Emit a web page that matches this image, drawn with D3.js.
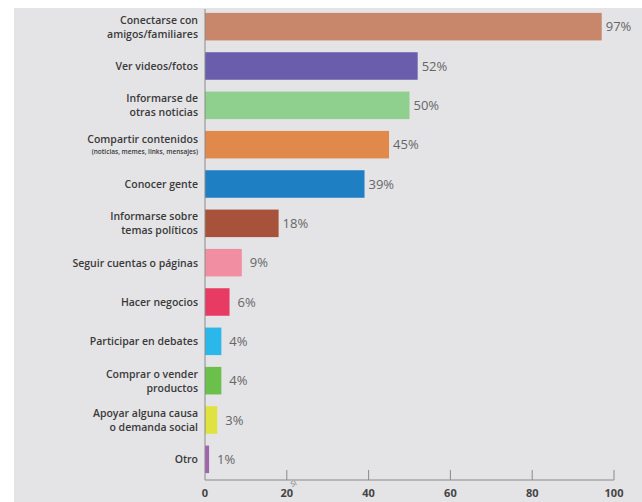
<!DOCTYPE html>
<html>
<head>
<meta charset="utf-8">
<script src="https://cdn.jsdelivr.net/npm/d3@7"></script>
<style>
  html, body { margin: 0; padding: 0; background: #fff; }
  svg { display: block; font-family: "Open Sans", "Noto Sans", sans-serif; }
</style>
</head>
<body>
<svg id="chart" width="642" height="502"></svg>
<script>
// Data
const categories = [
  ['Conectarse con', 'amigos/familiares'],
  ['Ver videos/fotos'],
  ['Informarse de', 'otras noticias'],
  ['Compartir contenidos'],
  ['Conocer gente'],
  ['Informarse sobre', 'temas políticos'],
  ['Seguir cuentas o páginas'],
  ['Hacer negocios'],
  ['Participar en debates'],
  ['Comprar o vender', 'productos'],
  ['Apoyar alguna causa', 'o demanda social'],
  ['Otro']
];
const subLabels = ['', '', '', '(noticias, memes, links, mensajes)', '', '', '', '', '', '', '', ''];
const values = [97, 52, 50, 45, 39, 18, 9, 6, 4, 4, 3, 1];
const colors = ['#c8876b', '#6a5dac', '#8fd08f', '#e1884b', '#1f7fc3', '#a9523b',
                '#f28ea1', '#e83b63', '#2cb7ea', '#6bbf4b', '#dfe23f', '#a064b1'];
const xTicks = [0, 20, 40, 60, 80, 100];

(function() {
  'use strict';

  const svg = d3.select('#chart');
  const width = 642, height = 502;

  // gray panel
  svg.append('rect')
    .attr('x', 14).attr('y', 8)
    .attr('width', width - 14).attr('height', height - 8)
    .attr('fill', '#e4e4e6');

  const x = d3.scaleLinear().domain([0, 100]).range([205, 614]);
  const y = d3.scaleBand()
    .domain(d3.range(values.length))
    .range([7, 479])
    .paddingInner(0.3)
    .paddingOuter(0.15);

  // bars
  svg.append('g')
    .selectAll('rect')
    .data(values)
    .enter()
    .append('rect')
    .attr('x', x(0))
    .attr('y', (d, i) => y(i))
    .attr('width', d => x(d) - x(0))
    .attr('height', y.bandwidth())
    .attr('fill', (d, i) => colors[i]);

  // value labels
  svg.append('g')
    .selectAll('text')
    .data(values)
    .enter()
    .append('text')
    .attr('x', d => x(d) + (d < 10 ? 8 : 4))
    .attr('y', (d, i) => y(i) + y.bandwidth() / 2)
    .attr('dy', '0.35em')
    .attr('font-size', 13)
    .attr('fill', '#666')
    .text(d => d + '%');

  // category labels
  const lab = svg.append('g')
    .selectAll('text')
    .data(categories)
    .enter()
    .append('text')
    .attr('text-anchor', 'end')
    .attr('font-size', 10.5)
    .attr('font-weight', 600)
    .attr('fill', '#3a3a3a');

  lab.each(function(lines, i) {
    const t = d3.select(this);
    const cy = y(i) + y.bandwidth() / 2;
    const sub = subLabels[i];
    if (sub) {
      t.append('tspan').attr('x', 198).attr('y', cy - 2).text(lines[0]);
      t.append('tspan').attr('x', 198).attr('y', cy + 9).attr('font-size', 6.5).text(sub);
    } else if (lines.length === 2) {
      t.append('tspan').attr('x', 198).attr('y', cy - 3).text(lines[0]);
      t.append('tspan').attr('x', 198).attr('y', cy + 11).text(lines[1]);
    } else {
      t.append('tspan').attr('x', 198).attr('y', cy + 4).text(lines[0]);
    }
  });

  // axes
  const axisY = 480;
  const ax = svg.append('g').attr('stroke', '#8a8a8a').attr('stroke-width', 1);
  ax.append('line')
    .attr('x1', x(0)).attr('x2', x(0))
    .attr('y1', 9).attr('y2', axisY);
  ax.append('line')
    .attr('x1', x(0)).attr('x2', x(100))
    .attr('y1', axisY).attr('y2', axisY);
  ax.selectAll('.tick')
    .data(xTicks.slice(1))
    .enter()
    .append('line')
    .attr('x1', d => x(d)).attr('x2', d => x(d))
    .attr('y1', axisY - 10).attr('y2', axisY);

  svg.append('g')
    .selectAll('text')
    .data(xTicks)
    .enter()
    .append('text')
    .attr('x', d => x(d))
    .attr('y', 497)
    .attr('text-anchor', 'middle')
    .attr('font-size', 11)
    .attr('font-weight', 'bold')
    .attr('fill', '#444')
    .text(d => d);

  svg.append('text')
    .attr('transform', 'translate(292,487) rotate(-25)')
    .attr('font-size', 7)
    .attr('fill', '#777')
    .text('SI');
})();
</script>
</body>
</html>
